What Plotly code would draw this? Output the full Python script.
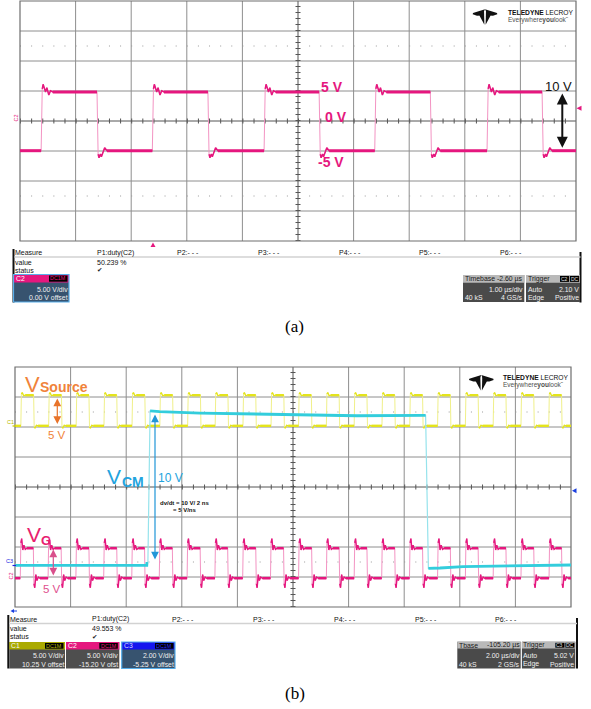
import plotly.graph_objects as go

W, H = 591, 709
SANS = "Liberation Sans, Arial, sans-serif"
SERIF = "Liberation Serif, Times New Roman, serif"

# ---------------- panel (a): C2 gate voltage, 1 us/div, 5 V/div, 0 V offset
A_TIME_RANGE_US = [0.0, 10.0]
A_V_RANGE = [-20.0, 20.0]
A_RISE_US = [0.38, 2.38, 4.39, 6.38, 8.40]
A_FALL_US = [1.385, 3.38, 5.38, 7.38, 9.39]
A_HIGH_V = 4.85
A_LOW_V = -4.95
A_RING_RISE_DT_US = [0.020, 0.036, 0.079, 0.103, 0.138, 0.169, 0.210]
A_RING_RISE_DV = [0.50, 1.27, -0.02, 0.70, -0.52, 0.20, 0.0]
A_RING_FALL_DT_US = [0.020, 0.036, 0.061, 0.079, 0.138, 0.180]
A_RING_FALL_DV = [-0.60, -1.17, -0.55, -1.00, 0.50, 0.0]

# ---------------- panel (b): 2 us/div
B_TIME_RANGE_US = [0.0, 20.0]
C1_RANGE_V = [-30.25, 9.75]   # 5 V/div, 10.25 V offset
C2_RANGE_V = [-4.80, 35.20]   # 5 V/div, -15.20 V offset
C3_RANGE_V = [-2.75, 13.25]   # 2 V/div, -5.25 V offset

SRC_RISE_US = [0.21, 1.21, 2.20, 3.20, 4.21, 5.21, 6.21, 7.20, 8.20, 9.21,
               10.20, 11.20, 12.20, 13.20, 14.20, 15.20, 16.20, 17.20, 18.20, 19.20]
SRC_FALL_US = [0.67, 1.67, 2.66, 3.66, 4.67, 5.67, 6.67, 7.66, 8.66, 9.67,
               10.66, 11.66, 12.66, 13.66, 14.66, 15.66, 16.66, 17.66, 18.66, 19.66]
SRC_HIGH_V = 5.05
SRC_LOW_V = -0.05
SRC_RING_RISE_DT_US = [0.02, 0.05, 0.10, 0.16]
SRC_RING_RISE_DV = [0.20, 0.45, -0.10, 0.0]
SRC_RING_FALL_DT_US = [0.02, 0.05, 0.10, 0.16]
SRC_RING_FALL_DV = [-0.20, -0.40, 0.10, 0.0]

G_RISE_US = [0.19, 1.19, 2.19, 3.19, 4.20, 5.19, 6.19, 7.19, 8.19, 9.19,
             10.20, 11.20, 12.20, 13.19, 14.19, 15.20, 16.20, 17.20, 18.20, 19.21]
G_FALL_US = [0.66, 1.66, 2.66, 3.66, 4.66, 5.66, 6.66, 7.65, 8.66, 9.66,
             10.67, 11.66, 12.66, 13.66, 14.66, 15.66, 16.66, 17.66, 18.66, 19.66]
G_HIGH_V = 5.0
G_LOW_V = 0.0
G_RING_RISE_DT_US = [0.02, 0.05, 0.09, 0.13, 0.18, 0.24]
G_RING_RISE_DV = [0.9, 1.6, -0.3, 0.5, -0.2, 0.0]
G_RING_FALL_DT_US = [0.02, 0.05, 0.09, 0.13, 0.18, 0.24]
G_RING_FALL_DV = [-0.9, -1.6, 0.6, -0.4, 0.2, 0.0]

CM_T_US = [0.00, 2.00, 4.74, 4.745, 4.78, 4.86, 5.20, 6.65, 8.45, 10.25, 12.30, 14.71, 14.77,
           14.87, 15.29, 16.12, 18.17, 20.00]
CM_V = [0.02, 0.02, 0.02, 0.16, 0.16, 10.32, 10.28, 10.18, 10.12, 10.05, 10.00, 10.03, 10.03,
        -0.17, -0.15, -0.06, 0.00, 0.05]

# ---------------- measurement / setup panel texts
MEAS_LABELS = ["P1:duty(C2)", "P2:- - -", "P3:- - -", "P4:- - -", "P5:- - -", "P6:- - -"]
A_DUTY = "50.239 %"
B_DUTY = "49.553 %"

MAG = "#E5177E"
MAG_LIGHT = "#F394C3"
YEL = "#E4E41C"
YEL_LIGHT = "#F0F08A"
CYAN = "#33CDDC"
CYAN_LIGHT = "#96E3EC"
GRID = "#8E8E8E"
GRID_C = "#555555"

ann, shp = [], []


def X(x):
    return x / W


def Y(y):
    return 1 - y / H


def text(x, y, s, size, color="#111111", anchor="left", family=SANS, angle=0):
    ann.append(dict(x=X(x), y=Y(y), xref="paper", yref="paper", text=s, showarrow=False,
                    xanchor=anchor, yanchor="middle", textangle=angle,
                    font=dict(family=family, size=size, color=color),
                    borderpad=0, borderwidth=0))


def rect(x0, y0, x1, y1, fill, edge=None, lw=0):
    shp.append(dict(type="rect", xref="paper", yref="paper", x0=X(x0), x1=X(x1),
                    y0=Y(y1), y1=Y(y0), fillcolor=fill,
                    line=dict(color=edge or fill, width=lw), layer="above"))


def seg(x0, y0, x1, y1, color, w=1.0):
    shp.append(dict(type="line", xref="paper", yref="paper", x0=X(x0), x1=X(x1),
                    y0=Y(y0), y1=Y(y1), line=dict(color=color, width=w), layer="above"))


def poly(pts, fill):
    d = "M " + " L ".join(f"{X(a):.5f},{Y(b):.5f}" for a, b in pts) + " Z"
    shp.append(dict(type="path", xref="paper", yref="paper", path=d, fillcolor=fill,
                    line=dict(width=0), layer="above"))


def darrow(x, y_top, y_bot, color, width, size):
    ann.append(dict(x=X(x), y=Y(y_top), xref="paper", yref="paper", text="",
                    ax=0, ay=y_bot - y_top, axref="pixel", ayref="pixel", showarrow=True,
                    arrowhead=2, startarrowhead=2, arrowside="end+start",
                    arrowsize=size, startarrowsize=size, arrowwidth=width, arrowcolor=color,
                    standoff=0, startstandoff=0))


def grid(xr, yr, dx_px, dy_px):
    xd, yd = f"{xr} domain", f"{yr} domain"

    def gl(x0, y0, x1, y1, color, w, dash="solid"):
        shp.append(dict(type="line", xref=xd, yref=yd, x0=x0, x1=x1, y0=y0, y1=y1,
                        line=dict(color=color, width=w, dash=dash), layer="below"))
    for i in range(1, 10):
        if i != 5:
            gl(i / 10, 0, i / 10, 1, GRID, 1)
    for j in range(1, 8):
        if j != 4:
            gl(0, j / 8, 1, j / 8, GRID, 1)
    dots = f"1px,{dx_px / 5 - 1:.2f}px"
    gl(0, 6.5 / 8, 1, 6.5 / 8, "#9A9A9A", 1, dots)
    gl(0, 1.5 / 8, 1, 1.5 / 8, "#9A9A9A", 1, dots)
    gl(0, 0.5, 1, 0.5, GRID_C, 1)
    gl(0.5, 0, 0.5, 1, GRID_C, 1)
    gl(0, 0.5, 1, 0.5, GRID_C, 5, dots)
    gl(0.5, 0, 0.5, 1, GRID_C, 5, f"1px,{dy_px / 5 - 1:.2f}px")
    shp.append(dict(type="rect", xref=xd, yref=yd, x0=0, x1=1, y0=0, y1=1,
                    line=dict(color="#6E6E6E", width=1.2), layer="below"))


def wave(t0, t1, rises, falls, lo, hi, rdt, rdv, fdt, fdv):
    ev = sorted([(t, 1) for t in rises] + [(t, 0) for t in falls])
    lvl = lo if ev[0][1] == 1 else hi
    ft, fv = [t0], [lvl]
    st, sv = [t0], [lvl]
    kt, kv = [t0], [lvl]
    for t, up in ev:
        ft.append(t); fv.append(lvl)
        st += [t, None]; sv += [lvl, None]
        kt += [t, None]; kv += [lvl, None]
        new = hi if up else lo
        dts, dvs = (rdt, rdv) if up else (fdt, fdv)
        for dt, dv in zip(dts, dvs):
            ft.append(t + dt); fv.append(new + dv)
            st.append(t + dt); sv.append(new + dv)
        kt.append(t + dts[-1]); kv.append(new)
        lvl = new
    ft.append(t1); fv.append(lvl)
    st.append(t1); sv.append(lvl)
    kt.append(t1); kv.append(lvl)
    return (ft, fv), (st, sv), (kt, kv)


fig = go.Figure()


def add_wave(w, xa, ya, c_light, c, wthin, wmed, wthick):
    (ft, fv), (st, sv), (kt, kv) = w
    fig.add_trace(go.Scatter(x=ft, y=fv, mode="lines", xaxis=xa, yaxis=ya,
                             line=dict(color=c_light, width=wthin), hoverinfo="skip"))
    fig.add_trace(go.Scatter(x=st, y=sv, mode="lines", xaxis=xa, yaxis=ya,
                             line=dict(color=c, width=wmed), hoverinfo="skip"))
    fig.add_trace(go.Scatter(x=kt, y=kv, mode="lines", xaxis=xa, yaxis=ya,
                             line=dict(color=c, width=wthick), hoverinfo="skip"))


# panel (a) trace
add_wave(wave(A_TIME_RANGE_US[0], A_TIME_RANGE_US[1], A_RISE_US, A_FALL_US, A_LOW_V, A_HIGH_V,
              A_RING_RISE_DT_US, A_RING_RISE_DV, A_RING_FALL_DT_US, A_RING_FALL_DV),
         "x", "y", MAG_LIGHT, MAG, 1.0, 1.5, 3.0)

# panel (b) traces
add_wave(wave(B_TIME_RANGE_US[0], B_TIME_RANGE_US[1], SRC_RISE_US, SRC_FALL_US, SRC_LOW_V, SRC_HIGH_V,
              SRC_RING_RISE_DT_US, SRC_RING_RISE_DV, SRC_RING_FALL_DT_US, SRC_RING_FALL_DV),
         "x2", "y2", YEL_LIGHT, YEL, 1.0, 1.3, 2.4)
add_wave(wave(B_TIME_RANGE_US[0], B_TIME_RANGE_US[1], G_RISE_US, G_FALL_US, G_LOW_V, G_HIGH_V,
              G_RING_RISE_DT_US, G_RING_RISE_DV, G_RING_FALL_DT_US, G_RING_FALL_DV),
         "x2", "y3", MAG_LIGHT, MAG, 1.0, 1.4, 2.6)

cm_t, cm_v = [], []
for i, (t, v) in enumerate(zip(CM_T_US, CM_V)):
    if i and abs(v - CM_V[i - 1]) > 3:
        cm_t.append(None); cm_v.append(None)
    cm_t.append(t); cm_v.append(v)
fig.add_trace(go.Scatter(x=CM_T_US, y=CM_V, mode="lines", xaxis="x2", yaxis="y4",
                         line=dict(color=CYAN_LIGHT, width=1.2), hoverinfo="skip"))
fig.add_trace(go.Scatter(x=cm_t, y=cm_v, mode="lines", xaxis="x2", yaxis="y4",
                         line=dict(color=CYAN, width=2.8), hoverinfo="skip"))

grid("x", "y", 55.6, 30.0)
grid("x2", "y2", 55.6, 30.0)


def logo(cx, top, tx):
    L = [(0, 0), (-12.0, 3.8), (-12.3, 5.0), (-8.0, 6.6), (-3.2, 6.4)]
    poly([(cx + a, top + b) for a, b in L], "#111111")
    poly([(cx - a, top + b) for a, b in L], "#111111")
    B = [(-1.0, 1.0), (-5.6, 6.2), (-0.6, 15.5)]
    poly([(cx + a, top + b) for a, b in B], "#111111")
    poly([(cx - a, top + b) for a, b in B], "#111111")
    text(tx, top + 3.0, "<b>TELEDYNE</b> LECROY", 6.7, "#111111")
    text(tx, top + 10.4, "Everywhere<b>you</b>look\u02dc", 6.5, "#505050")


logo(485, 9.2, 507.5)
logo(481.3, 375.0, 503.0)

# panel (a) annotations
text(331.7, 86.7, "<b>5 V</b>", 14, MAG, "center")
text(335.5, 116.7, "<b>0 V</b>", 14, MAG, "center")
text(330.5, 161.7, "<b>-5 V</b>", 14, MAG, "center")
text(558.3, 86.2, "10 V", 13, "#111111", "center")
darrow(562.3, 93.5, 149.3, "#111111", 2.0, 1.1)
text(15.5, 118, "C2", 5.5, MAG, "center", angle=-90)
poly([(576.5, 108.3), (581.5, 105.8), (581.5, 110.8)], MAG)
poly([(153, 242.5), (150.5, 247), (155.5, 247)], MAG)

# panel (b) annotations
OR = "#F0833A"
VCMC = "#22A3DE"
VGC = "#E8206E"
text(25, 384.3, "V", 22, OR)
text(40, 387.3, "<b>Source</b>", 14, OR)
darrow(57.3, 398.5, 425.5, "#E8732A", 1.2, 1.3)
text(56.5, 434.8, "5 V", 11.5, OR, "center")
text(107, 477.0, "V", 21, VCMC)
text(121.5, 481.8, "<b>CM</b>", 14, VCMC)
text(170, 477.8, "10 V", 12, VCMC, "center")
darrow(155, 414.5, 561, "#2196D8", 1.2, 1.3)
text(160, 502.5, "<b>dv/dt = 10 V/ 2 ns</b>", 6, "#111111")
text(173, 509.8, "<b>= 5 V/ns</b>", 6, "#111111")
text(26.5, 534.3, "V", 21, VGC)
text(41.5, 540.5, "<b>G</b>", 13, VGC)
darrow(53.3, 549.5, 577, "#D9508C", 1.2, 1.3)
text(51.5, 589, "5 V", 11.5, "#E0508E", "center")
text(10, 421.5, "C1", 5.5, "#B8B800", "center")
seg(12.5, 426, 16, 426, "#C8C800", 1.2)
text(9.5, 561, "C3", 5.5, "#2020E0", "center")
seg(12.5, 565.5, 16, 565.5, "#2020E0", 1.2)
text(10.5, 576, "C2", 5.5, MAG, "center", angle=-90)
poly([(572, 490.8), (576.5, 488.3), (576.5, 493.3)], "#1A3FE0")
poly([(10.5, 611), (14, 609), (14, 613)], "#1A3FE0")
seg(13.5, 611, 17, 611, "#1A3FE0", 1)

# ---------------- measurement tables


def chan_box(x0, x1, y0, yh, y1, l1y, l2y, head, body, name, name_c, badge_c, s1, s2, border=None):
    rect(x0, y0, x1, y1, body)
    rect(x0, y0, x1, yh, head)
    text(x0 + 2, (y0 + yh) / 2, name, 6.8, name_c)
    rect(x1 - 20, y0 + 1, x1 - 1.5, yh - 0.8, "#000000")
    text(x1 - 10.8, (y0 + yh) / 2, "DC1M", 5.4, badge_c, "center")
    text(x1 - 1.5, l1y, s1, 6.9, "#F0F0F0", "right")
    text(x1 - 1.5, l2y, s2, 6.9, "#F0F0F0", "right")
    if border:
        rect(x0, y0, x1, y1, "rgba(0,0,0,0)", border, 1.2)


def info_box(x0, x1, y0, yh, y1, l1y, l2y, hl, hr, a1, b1, a2, b2, badges=None):
    rect(x0, y0, x1, y1, "#4A4A4A")
    rect(x0, y0, x1, yh, "#B9B9B9")
    text(x0 + 1.5, (y0 + yh) / 2, hl, 6.9, "#1A1A1A")
    if hr:
        text(x1 - 1, (y0 + yh) / 2, hr, 6.9, "#1A1A1A", "right")
    if badges:
        bx = x1 - 20
        for b in badges:
            rect(bx, y0 + 1, bx + 9.2, yh - 0.8, "#000000")
            text(bx + 4.6, (y0 + yh) / 2, b, 5.0, "#E0E0E0", "center")
            bx += 10
    if a1:
        text(x0 + 1.5, l1y, a1, 6.9, "#F0F0F0")
    text(x1 - 1, l1y, b1, 6.9, "#F0F0F0", "right")
    text(x0 + 1.5, l2y, a2, 6.9, "#F0F0F0")
    text(x1 - 1, l2y, b2, 6.9, "#F0F0F0", "right")


def meas_rows(xl, xr, ytop, ysep, ys, pxs, duty):
    seg(xl, ytop, xl, ys[3], "#111111", 2)
    seg(xr, ytop + 3, xr, ys[3], "#111111", 2)
    seg(xl + 1, ysep, xr, ysep, "#D2D2D2", 1.6)
    text(xl + 1.8, ys[0], "Measure", 7)
    for x, lab in zip(pxs, MEAS_LABELS):
        text(x, ys[0], lab, 7)
    text(xl + 1.8, ys[1], "value", 7)
    text(pxs[0], ys[1], duty, 7)
    text(xl + 1.8, ys[2], "status", 7)
    text(pxs[0] + 0.5, ys[2], "\u2714", 6.5, "#222222", family="DejaVu Sans")


SLATE = "#37536F"
GRAYB = "#4E4E4E"

# (a)
meas_rows(13.5, 580.5, 249, 257, [252.6, 262.3, 270.3, 302.5],
          [96.7, 177.3, 258.0, 338.6, 419.2, 499.8], A_DUTY)
chan_box(13.5, 69, 274.5, 282.5, 302, 289.6, 297.6, MAG, SLATE, "C2", "#FFFFFF", MAG,
         "5.00 V/div", "0.00 V offset", border="#58AEEA")
info_box(463, 524.3, 275, 282.7, 302, 289.6, 297.6, "Timebase", "-2.60 \u00b5s",
         "", "1.00 \u00b5s/div", "40 kS", "4 GS/s")
info_box(526, 580, 275, 282.7, 302, 289.6, 297.6, "Trigger", "", "Auto", "2.10 V",
         "Edge", "Positive", badges=["C2", "DC"])

# (b)
meas_rows(8.3, 577, 615, 623.5, [619.3, 628.2, 636.8, 668.5],
          [91.7, 172.4, 253.0, 333.8, 414.5, 495.2], B_DUTY)
chan_box(9.3, 65, 642, 649.5, 668.5, 655.5, 664.3, "#AAAA00", GRAYB, "C1", "#F4F4F4", "#B8B800",
         "5.00 V/div", "10.25 V offset")
chan_box(66, 119.3, 642, 649.5, 668.5, 655.5, 664.3, MAG, GRAYB, "C2", "#FFFFFF", MAG,
         "5.00 V/div", "-15.20 V ofst")
chan_box(121.7, 175, 642, 649.5, 668.5, 655.5, 664.3, "#1515EE", SLATE, "C3", "#D8D8FF", "#2A2AFF",
         "2.00 V/div", "-5.25 V offset", border="#58AEEA")
info_box(457.3, 520.7, 641.8, 648.5, 668.5, 655.5, 664.3, "Tbase", "-105.20 \u00b5s",
         "", "2.00 \u00b5s/div", "40 kS", "2 GS/s")
info_box(521.9, 575.3, 641.8, 648.5, 668.5, 655.5, 664.3, "Trigger", "", "Auto", "5.02 V",
         "Edge", "Positive", badges=["C3", "DC"])

# captions
text(294.5, 327, "(a)", 17, "#000000", "center", family=SERIF)
text(295, 693, "(b)", 17, "#000000", "center", family=SERIF)

ax_off = dict(visible=False, fixedrange=True, showgrid=False, zeroline=False)
fig.update_layout(
    width=W, height=H, autosize=False, margin=dict(l=0, r=0, t=0, b=0, pad=0),
    paper_bgcolor="#FFFFFF", plot_bgcolor="rgba(0,0,0,0)", showlegend=False,
    xaxis=dict(domain=[20 / W, 576 / W], range=A_TIME_RANGE_US, anchor="y", **ax_off),
    yaxis=dict(domain=[1 - 241 / H, 1 - 1 / H], range=A_V_RANGE, anchor="x", **ax_off),
    xaxis2=dict(domain=[15 / W, 571 / W], range=B_TIME_RANGE_US, anchor="y2", **ax_off),
    yaxis2=dict(domain=[1 - 607 / H, 1 - 367 / H], range=C1_RANGE_V, anchor="x2", **ax_off),
    yaxis3=dict(range=C2_RANGE_V, anchor="x2", overlaying="y2", **ax_off),
    yaxis4=dict(range=C3_RANGE_V, anchor="x2", overlaying="y2", **ax_off),
    annotations=ann, shapes=shp,
)
fig.write_html("out.html", config={"displayModeBar": False},
               post_script="document.body.style.margin='0';document.body.style.overflow='hidden';")
